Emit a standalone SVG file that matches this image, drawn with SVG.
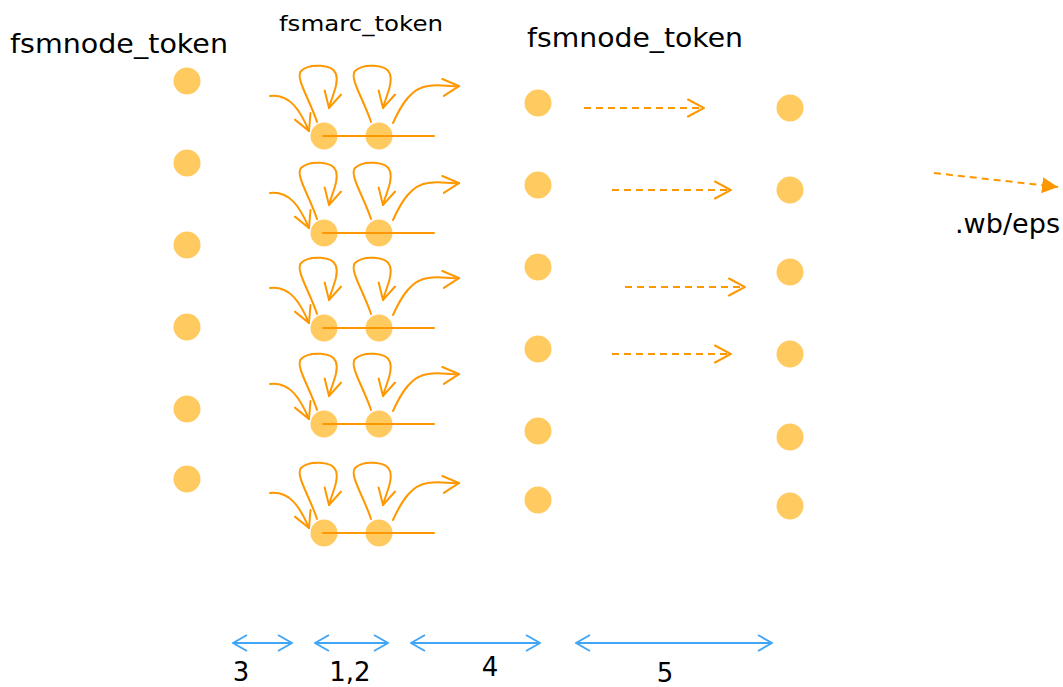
<svg xmlns="http://www.w3.org/2000/svg" xmlns:xlink="http://www.w3.org/1999/xlink" width="1063" height="687" viewBox="0 0 1063 687">
  <style>
    .lbl { font-family: "DejaVu Sans", Verdana, sans-serif; fill: #000; }
    .dot { fill: #FFCA60; }
    .arc { fill: none; stroke: #FF9800; stroke-width: 2; stroke-linecap: round; }
    .dash { fill: none; stroke: #FF9800; stroke-width: 2; stroke-dasharray: 7 5; }
    .dim { fill: none; stroke: #42A5F5; stroke-width: 2; }
  </style>
  <defs>
    <marker id="openOrange" viewBox="-1 -10 18 20" refX="16" refY="0" markerWidth="18" markerHeight="20" markerUnits="userSpaceOnUse" orient="auto">
      <path d="M0,-8.5 L16,0 L0,8.5" fill="none" stroke="#FF9800" stroke-width="2" stroke-linecap="round"/>
    </marker>
    <marker id="fillOrange" viewBox="0 -9 17 18" refX="16" refY="0" markerWidth="17" markerHeight="18" markerUnits="userSpaceOnUse" orient="auto">
      <path d="M0,-8 L16,0 L0,8 Z" fill="#FF9800"/>
    </marker>
    <marker id="openBlue" viewBox="-1 -9 16 18" refX="14" refY="0" markerWidth="16" markerHeight="18" markerUnits="userSpaceOnUse" orient="auto-start-reverse">
      <path d="M0,-8 L14,0 L0,8" fill="none" stroke="#42A5F5" stroke-width="2"/>
    </marker>
    <!-- one pair of arc tokens with their transitions -->
    <g id="arcPair">
      <circle class="dot" cx="324" cy="136" r="13.5"/>
      <circle class="dot" cx="379" cy="136" r="13.5"/>
      <line class="arc" x1="323" y1="136" x2="434" y2="136"/>
      <path class="arc" d="M270,96 C290,94 300,110 309,131" marker-end="url(#openOrange)"/>
      <path class="arc" d="M317,122 C310,100 295,78 301,71 C309,63 333,64 336,74 C339,84 332,96 329,108" marker-end="url(#openOrange)"/>
      <path class="arc" d="M371,122 C364,100 349,78 355,71 C363,63 387,64 390,74 C393,84 386,96 383,108" marker-end="url(#openOrange)"/>
      <path class="arc" d="M393,123 C402,103 412,88 428,86 C442,84 448,87 459,86" marker-end="url(#openOrange)"/>
    </g>
  </defs>

  <!-- titles -->
  <text class="lbl" x="10" y="53" font-size="27" textLength="218" lengthAdjust="spacingAndGlyphs">fsmnode_token</text>
  <text class="lbl" x="279" y="31" font-size="22" textLength="164" lengthAdjust="spacingAndGlyphs">fsmarc_token</text>
  <text class="lbl" x="527" y="47" font-size="27" textLength="216" lengthAdjust="spacingAndGlyphs">fsmnode_token</text>
  <text class="lbl" x="955" y="233" font-size="26" textLength="105" lengthAdjust="spacingAndGlyphs">.wb/eps</text>

  <!-- left node column -->
  <g id="left-nodes">
    <circle class="dot" cx="187" cy="81" r="13.5"/>
    <circle class="dot" cx="187" cy="163" r="13.5"/>
    <circle class="dot" cx="187" cy="245" r="13.5"/>
    <circle class="dot" cx="187" cy="327" r="13.5"/>
    <circle class="dot" cx="187" cy="409" r="13.5"/>
    <circle class="dot" cx="187" cy="479" r="13.5"/>
  </g>

  <!-- arc token rows -->
  <g id="arc-row-1"><use xlink:href="#arcPair"/></g>
  <g id="arc-row-2"><use xlink:href="#arcPair" transform="translate(0,97)"/></g>
  <g id="arc-row-3"><use xlink:href="#arcPair" transform="translate(0,192)"/></g>
  <g id="arc-row-4"><use xlink:href="#arcPair" transform="translate(0,288)"/></g>
  <g id="arc-row-5"><use xlink:href="#arcPair" transform="translate(0,397)"/></g>

  <!-- middle node column -->
  <g id="mid-nodes">
    <circle class="dot" cx="538" cy="103" r="13.5"/>
    <circle class="dot" cx="538" cy="185" r="13.5"/>
    <circle class="dot" cx="538" cy="267" r="13.5"/>
    <circle class="dot" cx="538" cy="349" r="13.5"/>
    <circle class="dot" cx="538" cy="431" r="13.5"/>
    <circle class="dot" cx="538" cy="500" r="13.5"/>
  </g>

  <!-- right node column -->
  <g id="right-nodes">
    <circle class="dot" cx="790" cy="108" r="13.5"/>
    <circle class="dot" cx="790" cy="190" r="13.5"/>
    <circle class="dot" cx="790" cy="272" r="13.5"/>
    <circle class="dot" cx="790" cy="354" r="13.5"/>
    <circle class="dot" cx="790" cy="437" r="13.5"/>
    <circle class="dot" cx="790" cy="506" r="13.5"/>
  </g>

  <!-- connectors -->
  <g id="connectors">
    <path class="dash" d="M584,108 L704,108" marker-end="url(#openOrange)"/>
    <path class="dash" d="M612,190 L731,190" marker-end="url(#openOrange)"/>
    <path class="dash" d="M625,287 L745,287" marker-end="url(#openOrange)"/>
    <path class="dash" d="M612,354 L731,354" marker-end="url(#openOrange)"/>
    <path class="dash" d="M934,173 L1058,187" marker-end="url(#fillOrange)"/>
  </g>

  <!-- span markers -->
  <g id="spans">
    <path class="dim" d="M233,643 L292,643" marker-start="url(#openBlue)" marker-end="url(#openBlue)"/>
    <path class="dim" d="M315,643 L388,643" marker-start="url(#openBlue)" marker-end="url(#openBlue)"/>
    <path class="dim" d="M411,643 L540,643" marker-start="url(#openBlue)" marker-end="url(#openBlue)"/>
    <path class="dim" d="M576,643 L772,643" marker-start="url(#openBlue)" marker-end="url(#openBlue)"/>
    <text class="lbl" x="241" y="681" font-size="26" text-anchor="middle">3</text>
    <text class="lbl" x="350" y="681" font-size="26" text-anchor="middle">1,2</text>
    <text class="lbl" x="490" y="676" font-size="26" text-anchor="middle">4</text>
    <text class="lbl" x="665" y="682" font-size="26" text-anchor="middle">5</text>
  </g>
</svg>
